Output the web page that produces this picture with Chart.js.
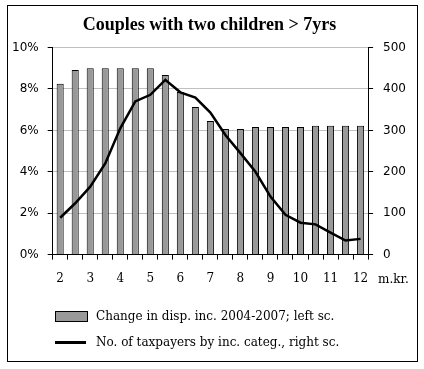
<!DOCTYPE html>
<html>
<head>
<meta charset="utf-8">
<script src="https://cdn.jsdelivr.net/npm/chart.js@4/dist/chart.umd.min.js"></script>
<style>
  body { margin: 0; background: #fff; }
  #wrap { position: relative; width: 424px; height: 369px; }
  #frame { position: absolute; left: 7px; top: 5px; width: 409px; height: 355px; border: 1px solid #000; pointer-events: none; }
  #legend { position: absolute; left: 55px; top: 308px; font: 12px "DejaVu Serif", serif; color: #000; }
  .item { display: flex; align-items: center; height: 16px; margin-bottom: 10px; }
  .box { width: 31px; height: 9px; background: #999; border: 1px solid #000; margin-right: 8px; }
  .ln { width: 31px; height: 3px; background: #000; margin-right: 10px; }
</style>
</head>
<body>
<div id="wrap">
  <canvas id="c" width="424" height="369"></canvas>
  <div id="frame"></div>
  <div id="legend">
    <div class="item"><span class="box"></span>Change in disp. inc. 2004-2007; left sc.</div>
    <div class="item"><span class="ln"></span>No. of taxpayers by inc. categ., right sc.</div>
  </div>
</div>
<script>
const categories = ['2','2.5','3','3.5','4','4.5','5','5.5','6','6.5','7','7.5','8','8.5','9','9.5','10','10.5','11','11.5','12'];
// left scale, % change in disposable income
const incomeChange = [8.25, 8.92, 9.0, 9.0, 9.0, 9.0, 9.0, 8.68, 7.85, 7.13, 6.46, 6.07, 6.07, 6.17, 6.17, 6.17, 6.17, 6.22, 6.22, 6.22, 6.22];
// right scale, number of taxpayers
const taxpayers = [89, 124, 164, 220, 305, 370, 386, 422, 392, 379, 343, 289, 245, 200, 140, 96, 77, 73, 53, 34, 38];

const unitLabel = {
    id: "unitLabel",
    afterDraw(chart) {
        const ctx = chart.ctx;
        const a = chart.chartArea;
        ctx.save();
        ctx.font = '12px "DejaVu Serif", serif';
        ctx.fillStyle = "#000";
        ctx.textBaseline = "middle";
        ctx.fillText("m.kr.", 378, a.bottom + 25);
        ctx.restore();
    }
};

new Chart(document.getElementById("c"), {
    data: {
        labels: categories,
        datasets: [
            { type: "line", data: taxpayers, yAxisID: "y2", borderColor: "#000", borderWidth: 2.5, pointRadius: 0, tension: 0, order: 0 },
            { type: "bar", data: incomeChange, yAxisID: "y", backgroundColor: "#999", borderColor: "#000", borderWidth: 1, barPercentage: 0.47, categoryPercentage: 1, order: 1 }
        ]
    },
    options: {
        responsive: false,
        animation: false,
        layout: { padding: { left: 3, right: 8, top: 0, bottom: 71 } },
        plugins: {
            legend: { display: false },
            tooltip: { enabled: false },
            title: {
                display: true,
                text: "Couples with two children > 7yrs",
                color: "#000",
                font: { family: '"Liberation Serif", serif', size: 18, weight: "bold" },
                padding: { top: 15, bottom: 11 }
            }
        },
        scales: {
            x: {
                grid: { drawOnChartArea: false, tickLength: 5, tickColor: "#000" },
                border: { color: "#000" },
                ticks: {
                    autoSkip: false, maxRotation: 0, padding: 12, color: "#000",
                    font: { family: '"DejaVu Serif", serif', size: 12 },
                    callback: (v, i) => Number.isInteger(Number(categories[i])) ? categories[i] : ""
                }
            },
            y: {
                position: "left", min: 0, max: 10,
                grid: { color: "#c0c0c0", tickLength: 5, tickColor: "#000" },
                border: { color: "#000" },
                ticks: { stepSize: 2, padding: 9, color: "#000", font: { family: '"DejaVu Sans", sans-serif', size: 12 }, callback: v => v + "%" }
            },
            y2: {
                position: "right", min: 0, max: 500,
                grid: { drawOnChartArea: false, tickLength: 5, tickColor: "#000" },
                border: { color: "#000" },
                ticks: { stepSize: 100, padding: 10, color: "#000", font: { family: '"DejaVu Sans", sans-serif', size: 12 } }
            }
        }
    },
    plugins: [unitLabel]
});
</script>
</body>
</html>
